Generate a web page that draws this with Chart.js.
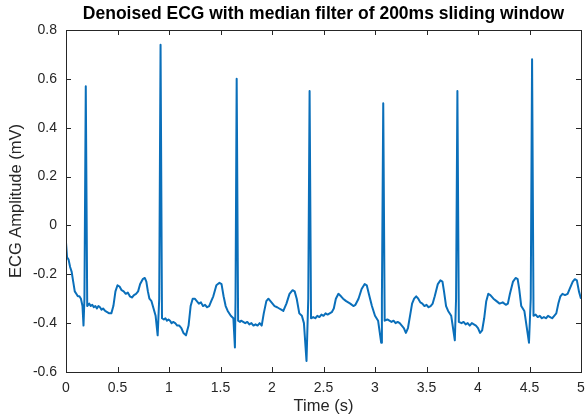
<!DOCTYPE html>
<html>
<head>
<meta charset="utf-8">
<script src="https://cdn.jsdelivr.net/npm/chart.js@4.4.1/dist/chart.umd.min.js"></script>
<style>
  body { margin: 0; background: #fff; }
  #wrap { width: 587px; height: 417px; }
</style>
</head>
<body>
<div id="wrap"><canvas id="ecgChart" width="587" height="417"></canvas></div>
<script>
// sample times (s)
const times = [
    0.000, 0.010, 0.025, 0.040, 0.055, 0.070, 0.085, 0.100, 0.115, 0.130, 0.145, 0.160, 0.170, 0.179, 0.192, 0.206,
    0.225, 0.240, 0.255, 0.270, 0.285, 0.300, 0.315, 0.330, 0.345, 0.360, 0.380, 0.400, 0.420, 0.440, 0.460,
    0.480, 0.500, 0.520, 0.540, 0.560, 0.580, 0.600, 0.620, 0.640, 0.660, 0.680, 0.700, 0.720, 0.745, 0.765, 0.780,
    0.795, 0.810, 0.830, 0.850, 0.870, 0.890, 0.905, 0.918, 0.932, 0.950, 0.965, 0.980, 0.995, 1.010, 1.025,
    1.040, 1.060, 1.080, 1.100, 1.120, 1.140, 1.165, 1.190, 1.210, 1.230, 1.250, 1.270, 1.290, 1.310, 1.330, 1.350,
    1.370, 1.390, 1.410, 1.430, 1.460, 1.490, 1.510, 1.530, 1.550, 1.570, 1.600, 1.625, 1.640, 1.646, 1.657, 1.671,
    1.690, 1.700, 1.720, 1.740, 1.760, 1.780, 1.800, 1.820, 1.840, 1.860, 1.880, 1.900, 1.920, 1.945, 1.965, 1.985,
    2.005, 2.025, 2.050, 2.070, 2.090, 2.110, 2.140, 2.170, 2.200, 2.220, 2.240, 2.265, 2.290, 2.310, 2.335, 2.352,
    2.365, 2.379, 2.400, 2.420, 2.440, 2.460, 2.480, 2.500, 2.520, 2.540, 2.560, 2.580, 2.600, 2.620, 2.645,
    2.670, 2.690, 2.720, 2.740, 2.760, 2.790, 2.810, 2.840, 2.870, 2.900, 2.920, 2.940, 2.970, 3.000, 3.030, 3.060,
    3.067, 3.080, 3.094, 3.120, 3.140, 3.160, 3.180, 3.200, 3.220, 3.240, 3.260, 3.280, 3.300, 3.320, 3.340,
    3.360, 3.380, 3.400, 3.420, 3.440, 3.460, 3.480, 3.500, 3.520, 3.540, 3.560, 3.580, 3.610, 3.635, 3.655, 3.670,
    3.690, 3.710, 3.740, 3.775, 3.787, 3.800, 3.814, 3.840, 3.860, 3.880, 3.900, 3.920, 3.940, 3.960, 3.980,
    4.000, 4.020, 4.040, 4.060, 4.080, 4.100, 4.120, 4.150, 4.180, 4.210, 4.240, 4.270, 4.290, 4.310, 4.340, 4.365,
    4.385, 4.400, 4.420, 4.450, 4.495, 4.512, 4.525, 4.539, 4.560, 4.580, 4.600, 4.620, 4.640, 4.660, 4.680,
    4.700, 4.720, 4.740, 4.760, 4.780, 4.800, 4.820, 4.845, 4.870, 4.890, 4.920, 4.940, 4.960, 4.980, 5.000
];

// amplitude (mV) at each time above
const amplitude = [
    -0.07, -0.13, -0.14, -0.17, -0.19, -0.23, -0.27, -0.28, -0.29, -0.29, -0.30, -0.33, -0.41, -0.30, 0.57, -0.33,
    -0.32, -0.33, -0.325, -0.335, -0.33, -0.34, -0.33, -0.335, -0.345, -0.34, -0.35, -0.355, -0.36, -0.36, -0.33,
    -0.27, -0.245, -0.25, -0.265, -0.27, -0.28, -0.275, -0.29, -0.295, -0.285, -0.28, -0.27, -0.24, -0.22, -0.215, -0.23,
    -0.27, -0.30, -0.31, -0.34, -0.37, -0.45, -0.30, 0.74, -0.38, -0.385, -0.38, -0.39, -0.385, -0.39, -0.40,
    -0.395, -0.40, -0.41, -0.41, -0.42, -0.44, -0.45, -0.41, -0.33, -0.30, -0.30, -0.31, -0.32, -0.315, -0.33, -0.325,
    -0.335, -0.33, -0.31, -0.29, -0.245, -0.235, -0.24, -0.29, -0.33, -0.35, -0.37, -0.38, -0.50, -0.30, 0.60, -0.39,
    -0.395, -0.39, -0.395, -0.40, -0.395, -0.405, -0.40, -0.41, -0.405, -0.41, -0.40, -0.41, -0.36, -0.31, -0.30, -0.31,
    -0.32, -0.33, -0.335, -0.34, -0.345, -0.35, -0.32, -0.28, -0.265, -0.27, -0.30, -0.36, -0.37, -0.40, -0.555, -0.30,
    0.55, -0.38, -0.375, -0.38, -0.37, -0.375, -0.365, -0.37, -0.36, -0.365, -0.36, -0.355, -0.34, -0.30, -0.28,
    -0.29, -0.30, -0.31, -0.315, -0.32, -0.33, -0.325, -0.30, -0.26, -0.24, -0.245, -0.28, -0.33, -0.37, -0.39, -0.48,
    -0.30, 0.50, -0.39, -0.385, -0.39, -0.395, -0.39, -0.40, -0.395, -0.40, -0.41, -0.42, -0.44, -0.42, -0.37,
    -0.32, -0.30, -0.29, -0.30, -0.315, -0.32, -0.33, -0.325, -0.335, -0.33, -0.32, -0.29, -0.24, -0.225, -0.23, -0.27,
    -0.33, -0.35, -0.37, -0.47, -0.30, 0.55, -0.395, -0.40, -0.395, -0.405, -0.40, -0.41, -0.40, -0.405, -0.41,
    -0.42, -0.44, -0.43, -0.38, -0.31, -0.28, -0.285, -0.30, -0.31, -0.32, -0.315, -0.325, -0.32, -0.28, -0.23, -0.215,
    -0.22, -0.26, -0.33, -0.35, -0.48, -0.30, 0.68, -0.37, -0.365, -0.375, -0.37, -0.38, -0.375, -0.38, -0.37,
    -0.375, -0.38, -0.37, -0.36, -0.32, -0.29, -0.28, -0.285, -0.28, -0.26, -0.23, -0.22, -0.225, -0.27, -0.30
];

const xTicks = [0, 0.5, 1, 1.5, 2, 2.5, 3, 3.5, 4, 4.5, 5];
const yTicks = [-0.6, -0.4, -0.2, 0, 0.2, 0.4, 0.6, 0.8];

const axisColor = '#262626';
const fontFamily = "'Liberation Sans', Arial, Helvetica, sans-serif";

//matlab style box with inward ticks on all four sides
const boxPlugin = {
    id: 'matlabBox',
    afterDraw(chart) {
        const { ctx, chartArea: a, scales: { x, y } } = chart;
        ctx.save();
        ctx.strokeStyle = axisColor;
        ctx.lineWidth = 1;
        ctx.strokeRect(Math.round(a.left) + .5, Math.round(a.top) + .5,
            Math.round(a.right - a.left), Math.round(a.bottom - a.top));
        ctx.beginPath();
        xTicks.forEach(v => {
            const px = Math.round(x.getPixelForValue(v)) + .5;
            ctx.moveTo(px, a.bottom); ctx.lineTo(px, a.bottom - 5);
            ctx.moveTo(px, a.top); ctx.lineTo(px, a.top + 5);
        });
        yTicks.forEach(v => {
            const py = Math.round(y.getPixelForValue(v)) + .5;
            ctx.moveTo(a.left, py); ctx.lineTo(a.left + 5, py);
            ctx.moveTo(a.right, py); ctx.lineTo(a.right - 5, py);
        });
        ctx.stroke();
        ctx.restore();
    }
};

new Chart(document.getElementById('ecgChart'), {
    type: 'line',
    data: {
        labels: times,
        datasets: [{
            data: times.map((t, i) => ({ x: t, y: amplitude[i] })),
            borderColor: '#0a6fba',
            borderWidth: 2,
            borderJoinStyle: 'round',
            pointRadius: 0,
            tension: 0,
            fill: false
        }]
    },
    options: {
        responsive: false,
        animation: false,
        layout: { padding: { top: 0, right: 6, left: 0, bottom: 0 } },
        plugins: {
            legend: { display: false },
            tooltip: { enabled: false },
            title: {
                display: true,
                fullSize: false,
                text: 'Denoised ECG with median filter of 200ms sliding window',
                color: '#000',
                font: { family: fontFamily, size: 17.5, weight: 'bold' },
                padding: { top: 4, bottom: 5 }
            }
        },
        scales: {
            x: {
                type: 'linear',
                min: 0,
                max: 5,
                afterFit: s => { s.height = 45; s.paddingLeft = 0; s.paddingRight = 0; },
                afterBuildTicks: s => { s.ticks = xTicks.map(v => ({ value: v })); },
                grid: { display: false, drawTicks: false },
                border: { display: false },
                ticks: {
                    color: axisColor, padding: 8, maxRotation: 0,
                    font: { family: fontFamily, size: 14 },
                    callback: v => String(v)
                },
                title: {
                    display: true,
                    text: 'Time (s)',
                    color: axisColor,
                    font: { family: fontFamily, size: 16.5 },
                    padding: { top: 0, bottom: 1 }
                }
            },
            y: {
                min: -0.6,
                max: 0.8,
                afterFit: s => { s.width = 66; },
                afterBuildTicks: s => { s.ticks = yTicks.map(v => ({ value: v })); },
                grid: { display: false, drawTicks: false },
                border: { display: false },
                ticks: {
                    color: axisColor, padding: 9,
                    font: { family: fontFamily, size: 14 },
                    callback: v => String(Math.round(v * 10) / 10)
                },
                title: {
                    display: true,
                    text: 'ECG Amplitude (mV)',
                    color: axisColor,
                    font: { family: fontFamily, size: 16.5 },
                    padding: { top: 7, bottom: 0 }
                }
            }
        }
    },
    plugins: [boxPlugin]
});
</script>
</body>
</html>
